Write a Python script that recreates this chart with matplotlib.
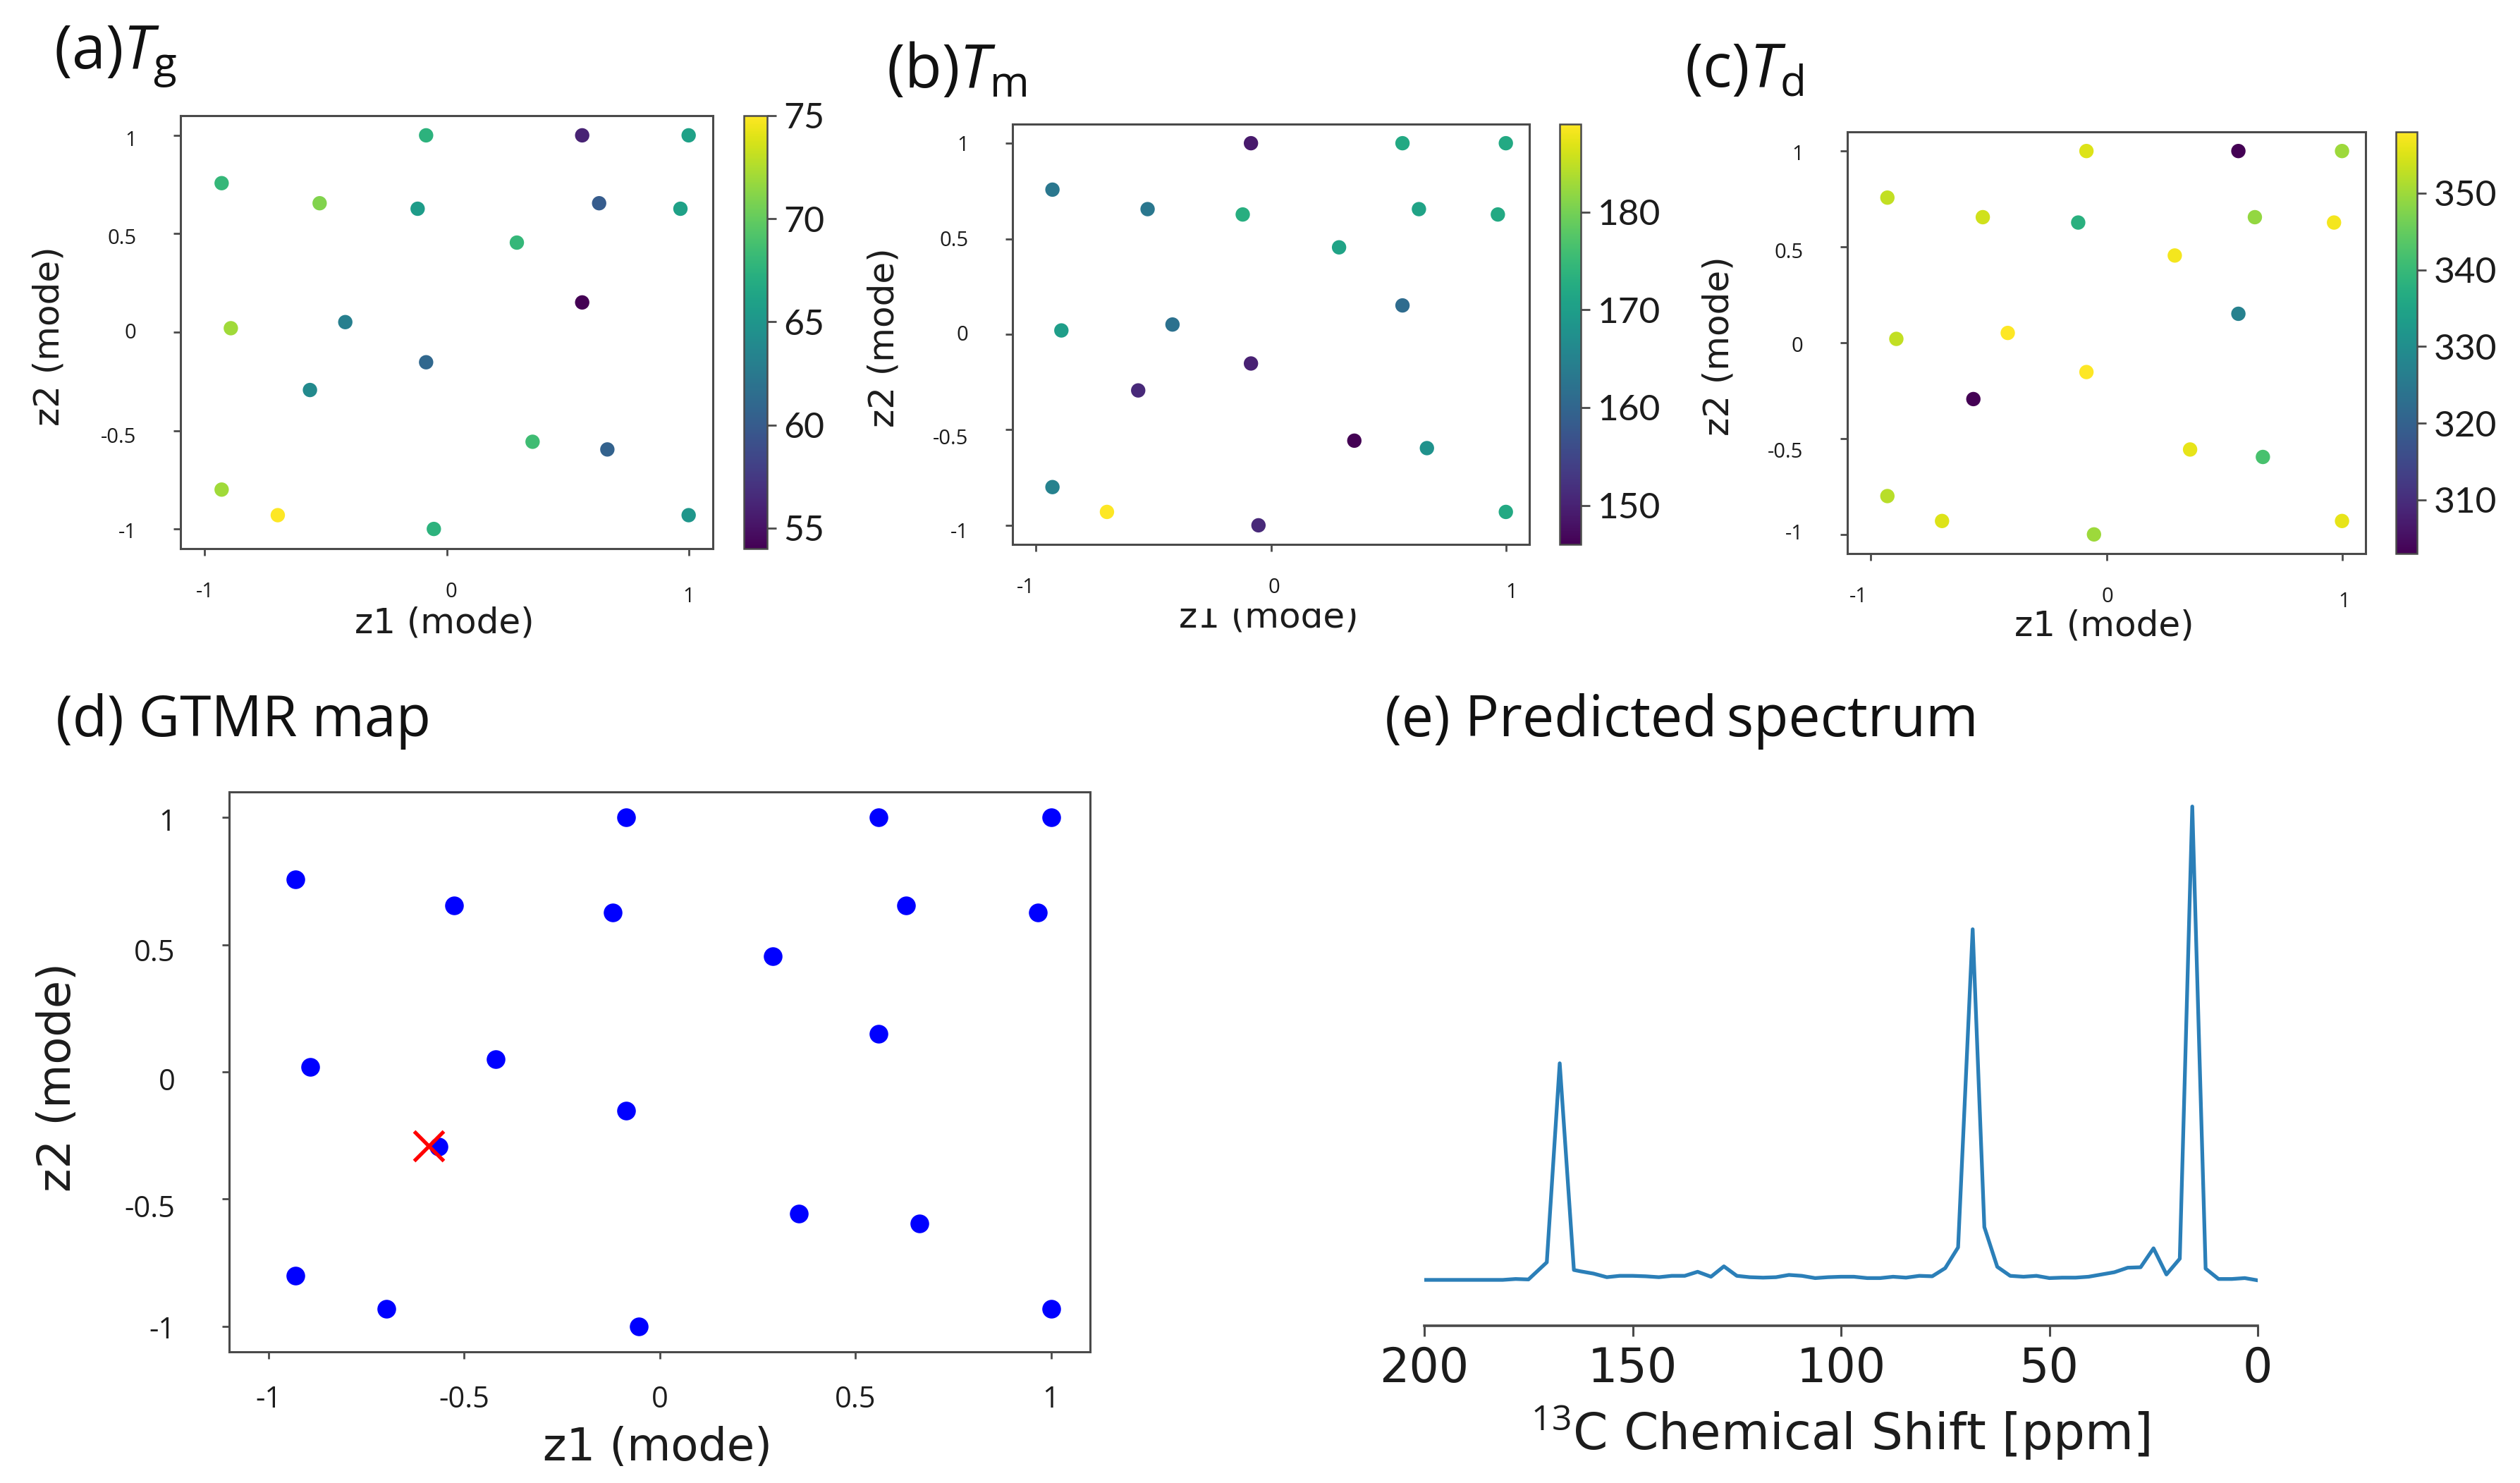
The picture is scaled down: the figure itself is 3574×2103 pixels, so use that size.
import matplotlib
matplotlib.use("Agg")
import matplotlib.pyplot as plt
from matplotlib.transforms import Affine2D, Bbox

W, H = 3574, 2103

# ---------- data ----------
z1 = [1.0, 0.56, -0.085, -0.93, -0.525, -0.12, 0.63, 0.966, 0.29, 0.56,
      -0.892, -0.419, -0.085, -0.565, 0.355, 0.664, -0.93, -0.698, -0.053, 1.0]
z2 = [1.0, 1.0, 1.0, 0.757, 0.655, 0.627, 0.655, 0.627, 0.455, 0.151,
      0.02, 0.051, -0.153, -0.294, -0.557, -0.596, -0.80, -0.93, -1.0, -0.93]
Tg = [66, 56, 67.5, 68, 71, 65.5, 60, 66, 68, 54,
      72, 63, 61, 64, 68.5, 60.5, 72, 75, 67.5, 65]
Tm = [172, 172, 149, 163, 163, 173, 171, 172, 171, 161,
      170, 162, 150, 151, 146, 168, 165, 189, 151, 172]
Td = [350, 303, 355, 353, 354, 338, 349, 357, 357, 327,
      353, 358, 358, 303, 356, 342, 352, 355, 350, 356]
target_z1 = [-0.59]
target_z2 = [-0.29]

shift = [200, 196.9, 193.7, 190.6, 187.5, 184.4, 181.2, 178.1, 175, 170.6, 167.5, 164.1,
         162.5, 159.4, 156.2, 153.1, 150, 146.9, 143.7, 140.6, 137.5, 134.4, 131.2, 128.1,
         125, 121.9, 118.7, 115.6, 112.5, 109.4, 106.2, 103.1, 100, 96.9, 93.7, 90.6,
         87.5, 84.4, 81.2, 78.1, 75, 71.9, 68.4, 65.6, 62.5, 59.4, 56.2, 53.1,
         50, 46.9, 43.7, 40.6, 37.5, 34.4, 31.2, 28.1, 25, 21.9, 18.7, 15.7,
         12.5, 9.4, 6.2, 3.1, 0]
intensity = [0.000, 0.000, 0.000, 0.000, 0.000, 0.000, 0.000, 0.002, 0.001, 0.039, 0.480, 0.022,
             0.019, 0.014, 0.006, 0.009, 0.009, 0.008, 0.006, 0.009, 0.009, 0.018, 0.007, 0.030,
             0.009, 0.006, 0.005, 0.006, 0.011, 0.009, 0.004, 0.006, 0.007, 0.007, 0.004, 0.004,
             0.007, 0.005, 0.009, 0.008, 0.026, 0.072, 0.777, 0.117, 0.029, 0.009, 0.007, 0.009,
             0.004, 0.005, 0.005, 0.007, 0.012, 0.017, 0.027, 0.028, 0.070, 0.012, 0.047, 1.049,
             0.025, 0.002, 0.002, 0.004, -0.001]

xticks_small = [-1, 0, 1]
xlabels_small = ['-1', '0', '1']
yticks = [-1, -0.5, 0, 0.5, 1]
ylabels = ['-1', '-0.5', '0', '0.5', '1']
spec_ticks = [200, 150, 100, 50, 0]
spec_labels = ['200', '150', '100', '50', '0']

# ---------- style ----------
plt.rcParams['font.family'] = ['Open Sans', 'DejaVu Sans']
plt.rcParams['mathtext.fontset'] = 'custom'
plt.rcParams['mathtext.rm'] = 'Open Sans'
plt.rcParams['mathtext.it'] = 'Open Sans:italic'
plt.rcParams['mathtext.bf'] = 'Open Sans:bold'

SPINE = '#4a4a4a'
TXT = '#1c1c1c'
fig = plt.figure(figsize=(W / 100, H / 100), dpi=100)
PX = Affine2D().scale(1, -1).translate(0, H)


def px_axes(x0, y0, x1, y1):
    return fig.add_axes([x0 / W, 1 - y1 / H, (x1 - x0) / W, (y1 - y0) / H])


def nudge(labels, offsets):
    for lab, (dx, dy) in zip(labels, offsets):
        lab.set_transform(lab.get_transform() + Affine2D().translate(dx, -dy))


def axis_label(ax, xtext, xpos, ytext, ypos, size):
    ax.set_xlabel(xtext, fontsize=size, family='DejaVu Sans', color=TXT, va='center', ha='center')
    ax.xaxis.set_label_coords(xpos[0], xpos[1], transform=PX)
    if ytext:
        ax.set_ylabel(ytext, fontsize=size, family='DejaVu Sans', color=TXT, va='center', ha='center')
        ax.yaxis.set_label_coords(ypos[0], ypos[1], transform=PX)


def frame(ax, tick_size, ypad, xpad, xticks, xlabels):
    ax.set_xlim(-1.1, 1.1)
    ax.set_ylim(-1.1, 1.1)
    ax.set_xticks(xticks, xlabels)
    ax.set_yticks(yticks, ylabels)
    ax.tick_params(axis='x', labelsize=tick_size, length=7, width=2, pad=xpad, color=SPINE, labelcolor=TXT)
    ax.tick_params(axis='y', labelsize=tick_size, length=7, width=2, pad=ypad, color=SPINE, labelcolor=TXT)
    for s in ax.spines.values():
        s.set_linewidth(2.2)
        s.set_color(SPINE)


def scatter_panel(box, cbox, values, cticks, title, tpos, xl, yl, xoff, yoff, cb_size):
    ax = px_axes(*box)
    sc = ax.scatter(z1, z2, c=values, cmap='viridis', s=215, linewidths=0)
    frame(ax, 21, 38, 27, xticks_small, xlabels_small)
    axis_label(ax, 'z1 (mode)', xl, 'z2 (mode)', yl, 36)
    nudge(ax.get_xticklabels(), xoff)
    nudge(ax.get_yticklabels(), yoff)
    cax = px_axes(*cbox)
    cb = fig.colorbar(sc, cax=cax)
    cb.set_ticks(cticks)
    cb.ax.tick_params(labelsize=cb_size, length=9, width=2, pad=8, color=SPINE, labelcolor=TXT)
    cb.outline.set_linewidth(1.8)
    cb.outline.set_edgecolor(SPINE)
    for lab in cb.ax.get_yticklabels():
        lab.set_family('Lato')
    fig.text(tpos[0] / W, 1 - tpos[1] / H, title, fontsize=62, color='#111111', va='baseline', ha='left')
    return ax


scatter_panel((256, 164, 1011, 778), (1055, 164, 1088, 778), Tg, [55, 60, 65, 70, 75],
              r'(a)$\mathit{T}_{\mathrm{g}}$', (76, 97), (630, 883), (70, 477),
              [(0, 0), (6, 0), (0, 7)], [(0, 2), (0, 6), (0, -2), (0, 4), (0, 4)], 36)

ax_b = scatter_panel((1436, 176, 2169, 772), (2212, 176, 2242, 772), Tm, [150, 160, 170, 180],
                     r'(b)$\mathit{T}_{\mathrm{m}}$', (1257, 124), (1799, 876), (1253, 479),
                     [(-15, 0), (4, 0), (8, 7)], [(0, 7), (0, 10), (0, -2), (0, -1), (0, 0)], 37)
ax_b.xaxis.label.set_clip_on(True)
ax_b.xaxis.label.set_clip_box(Bbox([[0, 0], [W, H - 863]]))

scatter_panel((2620, 187, 3355, 785), (3398, 187, 3428, 785), Td, [310, 320, 330, 340, 350],
              r'(c)$\mathit{T}_{\mathrm{d}}$', (2389, 124), (2984, 888), (2438, 491),
              [(-18, 0), (1, 0), (3, 7)], [(0, -4), (0, 16), (0, 2), (0, 5), (0, 2)], 37)

# panel d
ax_d = px_axes(325, 1123, 1546, 1917)
ax_d.scatter(z1, z2, c='blue', s=365, linewidths=0)
ax_d.plot(target_z1, target_z2, 'x', color='red', ms=30, mew=3.8)
frame(ax_d, 30, 48, 27, yticks, ylabels)
axis_label(ax_d, 'z1 (mode)', (932, 2053), 'z2 (mode)', (82, 1527), 46)
nudge(ax_d.get_yticklabels(), [(0, 1), (0, 10), (0, 10), (0, 7), (0, 3)])
fig.text(79 / W, 1 - 1044 / H, '(d) GTMR map', fontsize=58, color='#111111', va='baseline', ha='left')

# panel e
ax_e = px_axes(2020, 1120, 3202, 1880)
ax_e.plot(shift, intensity, color='#2b7fb8', lw=3.8)
ax_e.set_xlim(200, 0)
ax_e.set_ylim(-0.1016, 1.086)
ax_e.set_xticks(spec_ticks, spec_labels)
ax_e.set_yticks([])
for k in ('top', 'left', 'right'):
    ax_e.spines[k].set_visible(False)
ax_e.spines['bottom'].set_linewidth(2.6)
ax_e.spines['bottom'].set_color(SPINE)
ax_e.tick_params(axis='x', labelsize=48, length=11, width=2.2, pad=9, color=SPINE, labelcolor=TXT,
                 labelfontfamily='DejaVu Sans')
axis_label(ax_e, r'$^{13}$C Chemical Shift [ppm]', (2610, 2031), None, None, 51)
fig.text(1964 / W, 1 - 1044 / H, '(e) Predicted\u2009spectrum', fontsize=58, color='#111111', va='baseline', ha='left')

fig.savefig('out.png', dpi=100, facecolor='white')
